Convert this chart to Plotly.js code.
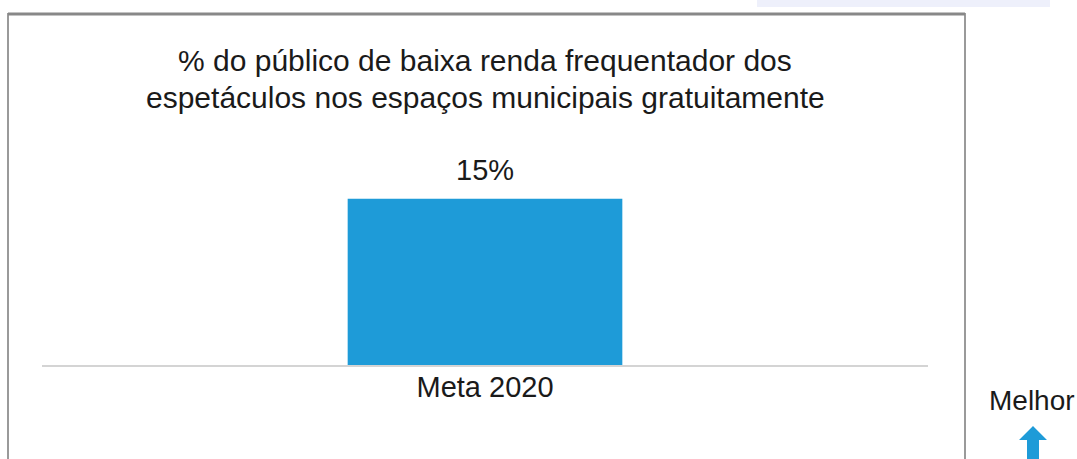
<!DOCTYPE html>
<html>
<head>
<meta charset="utf-8">
<script src="https://cdn.plot.ly/plotly-3.0.1.min.js"></script>
<style>html,body{margin:0;padding:0;background:#fff;}#chart{width:1077px;height:459px;}</style>
</head>
<body>
<div id="chart"></div>
<script>
const categories = ["Meta 2020"];
const values = [15];
const titleLines = ["% do público de baixa renda frequentador dos", "espetáculos nos espaços municipais gratuitamente"];
const sideLabel = "Melhor";

const L = 42, R = 928, T = 140, B = 365, W = 1077, H = 459;
const pw = R - L, ph = B - T;
const px = x => (x - L) / pw;
const py = y => (B - y) / ph;
const FONT = 'Liberation Sans, Arial, sans-serif';
const BLUE = '#1E9BD8';

const trace = {
  type: 'bar',
  x: categories,
  y: values,
  width: 0.31,
  marker: {color: BLUE},
  textposition: 'none',
  hoverinfo: 'skip'
};

const annotations = [
  {xref: 'paper', yref: 'paper', x: 0.5, y: py(61), text: titleLines[0], showarrow: false,
   font: {family: FONT, size: 30, color: '#1a1a1a'}, xanchor: 'center', yanchor: 'middle'},
  {xref: 'paper', yref: 'paper', x: 0.5, y: py(97), text: titleLines[1], showarrow: false,
   font: {family: FONT, size: 30, color: '#1a1a1a'}, xanchor: 'center', yanchor: 'middle'},
  ...categories.map((c, i) => ({x: c, y: values[i], xref: 'x', yref: 'y', text: values[i] + '%', showarrow: false,
   yanchor: 'middle', yshift: 29, font: {family: FONT, size: 29, color: '#1a1a1a'}})),
  {xref: 'paper', yref: 'paper', x: px(1032), y: py(400), text: sideLabel, showarrow: false,
   font: {family: FONT, size: 28, color: '#1a1a1a'}, xanchor: 'center', yanchor: 'middle'}
];

// block arrow path (paper coords)
const P = (x, y) => px(x) + ',' + py(y);
const arrowPath = 'M' + P(1033, 426) + ' L' + P(1047, 440) + ' L' + P(1039, 440) + ' L' + P(1039, 470) +
  ' L' + P(1027, 470) + ' L' + P(1027, 440) + ' L' + P(1019, 440) + ' Z';

const shapes = [
  {type: 'rect', xref: 'paper', yref: 'paper', x0: px(757), x1: px(1050), y0: py(7), y1: py(-5),
   line: {width: 0}, fillcolor: '#EEF0FB', layer: 'below'},
  {type: 'rect', xref: 'paper', yref: 'paper', x0: px(8), x1: px(965), y0: py(470), y1: py(14),
   line: {width: 2, color: '#9a9a9a'}, fillcolor: 'rgba(0,0,0,0)'},
  {type: 'line', xref: 'paper', yref: 'paper', x0: px(8), x1: px(965), y0: py(14), y1: py(14),
   line: {width: 3, color: '#888'}},
  {type: 'path', xref: 'paper', yref: 'paper', path: arrowPath, fillcolor: BLUE, line: {width: 0}}
];

const layout = {
  width: W, height: H,
  margin: {l: L, r: W - R, t: T, b: H - B, pad: 0},
  paper_bgcolor: '#fff', plot_bgcolor: '#fff',
  showlegend: false,
  xaxis: {showgrid: false, zeroline: false, showline: true, linecolor: '#d4d4d4', linewidth: 2,
    ticks: '', tickfont: {family: FONT, size: 29, color: '#1a1a1a'}, ticklabelstandoff: -5},
  yaxis: {range: [0, 20.3], visible: false, showgrid: false, zeroline: false, fixedrange: true},
  annotations: annotations,
  shapes: shapes,
  font: {family: FONT}
};

Plotly.newPlot('chart', [trace], layout, {displayModeBar: false, staticPlot: true});
</script>
</body>
</html>
